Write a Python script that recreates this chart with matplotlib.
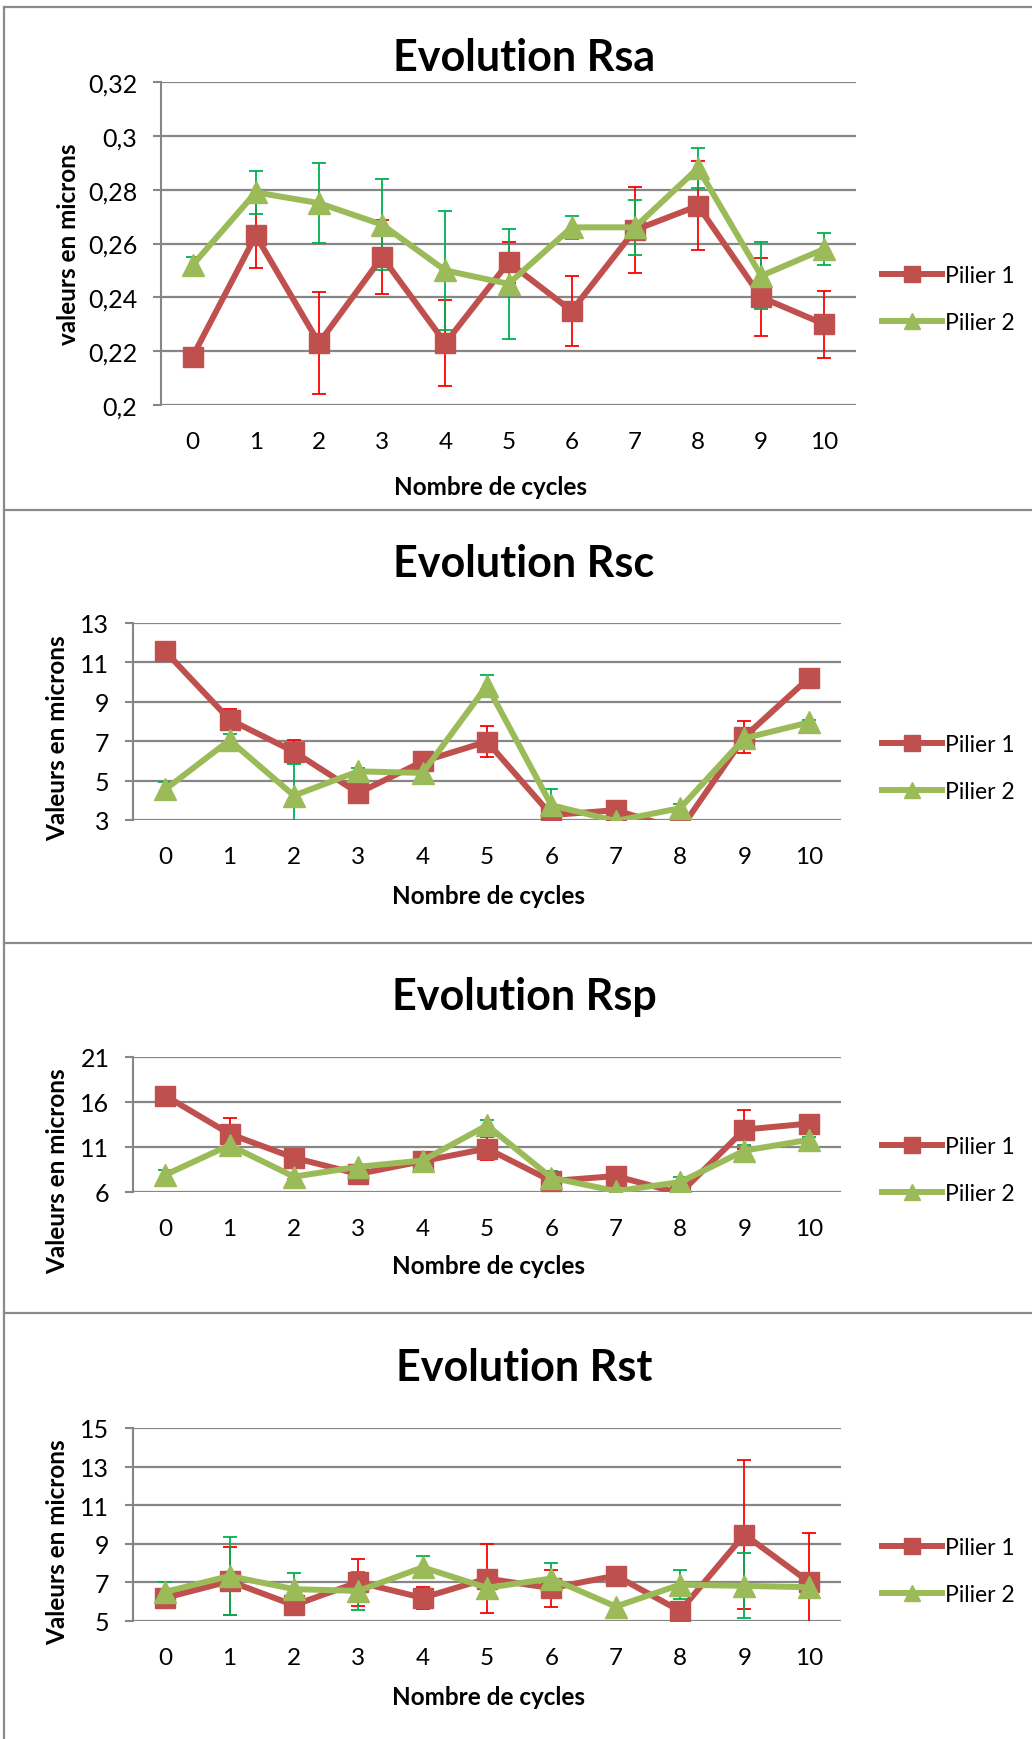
import matplotlib
matplotlib.use("Agg")
import matplotlib.pyplot as plt
from matplotlib.lines import Line2D

plt.rcParams['font.family'] = ['Lato', 'DejaVu Sans']

# ---------------- data ----------------
cycles = [0, 1, 2, 3, 4, 5, 6, 7, 8, 9, 10]
cycle_labels = ["0", "1", "2", "3", "4", "5", "6", "7", "8", "9", "10"]
series_names = ["Pilier 1", "Pilier 2"]

rsa_p1 = [0.218, 0.263, 0.223, 0.255, 0.223, 0.253, 0.235, 0.265, 0.274, 0.240, 0.230]
rsa_p1_err = [0.002, 0.012, 0.019, 0.0137, 0.016, 0.0075, 0.013, 0.016, 0.0166, 0.0145, 0.0125]
rsa_p2 = [0.252, 0.279, 0.275, 0.267, 0.250, 0.245, 0.266, 0.266, 0.288, 0.248, 0.258]
rsa_p2_err = [0.003, 0.008, 0.0148, 0.017, 0.022, 0.0205, 0.0043, 0.0102, 0.0075, 0.0125, 0.006]
rsa_yticks = [0.20, 0.22, 0.24, 0.26, 0.28, 0.30, 0.32]
rsa_ylabels = ["0,2", "0,22", "0,24", "0,26", "0,28", "0,3", "0,32"]

rsc_p1 = [11.56, 8.1, 6.47, 4.37, 5.97, 6.98, 3.25, 3.5, 2.5, 7.22, 10.2]
rsc_p1_err = [0.2, 0.54, 0.6, 0.2, 0.2, 0.77, 0.2, 0.15, 0.2, 0.83, 0.2]
rsc_p2 = [4.55, 7.05, 4.24, 5.47, 5.39, 9.82, 3.75, 2.95, 3.6, 7.15, 7.95]
rsc_p2_err = [0.37, 0.32, 1.6, 0.15, 0.15, 0.53, 0.8, 0.1, 0.2, 0.2, 0.15]
rsc_yticks = [3, 5, 7, 9, 11, 13]
rsc_ylabels = ["3", "5", "7", "9", "11", "13"]

rsp_p1 = [16.7, 12.46, 9.8, 8.0, 9.43, 10.83, 7.22, 7.77, 5.85, 12.94, 13.6]
rsp_p1_err = [0.2, 1.77, 0.2, 0.2, 0.2, 1.3, 0.2, 0.2, 0.2, 2.14, 0.2]
rsp_p2 = [7.9, 11.2, 7.7, 8.8, 9.5, 13.4, 7.59, 6.1, 7.1, 10.6, 11.8]
rsp_p2_err = [0.55, 1.1, 0.2, 0.2, 0.2, 0.6, 0.7, 0.2, 0.55, 0.6, 0.35]
rsp_yticks = [6, 11, 16, 21]
rsp_ylabels = ["6", "11", "16", "21"]

rst_p1 = [6.2, 7.06, 5.82, 7.01, 6.2, 7.2, 6.7, 7.35, 5.52, 9.48, 7.03]
rst_p1_err = [0.48, 1.75, 0.52, 1.22, 0.58, 1.77, 0.96, 0.2, 0.2, 3.86, 2.55]
rst_p2 = [6.51, 7.33, 6.65, 6.56, 7.78, 6.72, 7.2, 5.75, 6.88, 6.82, 6.75]
rst_p2_err = [0.52, 2.02, 0.86, 0.99, 0.57, 0.6, 0.82, 0.2, 0.76, 1.68, 0.58]
rst_yticks = [5, 7, 9, 11, 13, 15]
rst_ylabels = ["5", "7", "9", "11", "13", "15"]

titles = ["Evolution Rsa", "Evolution Rsc", "Evolution Rsp", "Evolution Rst"]
ylabel_texts = ["valeurs en microns", "Valeurs en microns", "Valeurs en microns", "Valeurs en microns"]
xlabel_text = "Nombre de cycles"

# ---------------- style ----------------
W, H = 1032, 1740
C1, C2 = "#C0504D", "#9BBB59"
E1, E2 = "#FF0000", "#00B050"
GRID = "#868686"
FRAME = "#8A8A8A"

fig = plt.figure(figsize=(W / 100, H / 100), dpi=100)


def fx(x):
    return x / W


def fy(y):
    return 1 - y / H


def draw_panel(box, title, title_y, ylabel, ylabel_xy, xlabel_xy, p1, e1, p2, e2,
               yticks, ylabels, legend_y):
    left, top, right, bottom = box
    ax = fig.add_axes([fx(left), fy(bottom), (right - left) / W, (bottom - top) / H])
    ax.errorbar(cycles, p1, yerr=e1, fmt='none', ecolor=E1, elinewidth=1.3,
                capsize=5, capthick=1.3, zorder=2)
    ax.errorbar(cycles, p2, yerr=e2, fmt='none', ecolor=E2, elinewidth=1.3,
                capsize=5, capthick=1.3, zorder=2)
    ax.plot(cycles, p1, color=C1, lw=4.3, marker='s', markersize=14,
            markerfacecolor=C1, markeredgecolor=C1, zorder=3)
    ax.plot(cycles, p2, color=C2, lw=4.3, marker='^', markersize=16,
            markerfacecolor=C2, markeredgecolor=C2, zorder=4)
    ax.set_xlim(-0.5, 10.5)
    ax.set_ylim(yticks[0], yticks[-1])
    ax.set_yticks(yticks)
    ax.set_yticklabels(ylabels)
    ax.set_xticks(cycles)
    ax.set_xticklabels(cycle_labels)
    for s in ['top', 'right', 'bottom']:
        ax.spines[s].set_visible(False)
    ax.spines['left'].set_color(GRID)
    ax.spines['left'].set_linewidth(1.5)
    ax.yaxis.grid(True, color=GRID, lw=1.6)
    ax.set_axisbelow(True)
    ax.tick_params(axis='y', length=6, width=1.5, color=GRID, pad=11, labelsize=18)
    ax.tick_params(axis='x', length=0, pad=19, labelsize=17.5)
    ax.set_facecolor('none')
    fig.text(fx(524), fy(title_y), title,
             ha='center', va='center', fontsize=31, fontweight='bold')
    fig.text(fx(ylabel_xy[0]), fy(ylabel_xy[1]), ylabel, rotation=90,
             ha='center', va='center', fontsize=17.5, fontweight='bold')
    fig.text(fx(xlabel_xy[0]), fy(xlabel_xy[1]), xlabel_text,
             ha='center', va='center', fontsize=17.5, fontweight='bold')
    h1 = Line2D([], [], color=C1, lw=4.3, marker='s', markersize=11)
    h2 = Line2D([], [], color=C2, lw=4.3, marker='^', markersize=12)
    ax.legend([h1, h2], series_names, loc='center left',
              bbox_to_anchor=(fx(882), fy(legend_y)), bbox_transform=fig.transFigure,
              frameon=False, fontsize=16.5, handlelength=2.6, handletextpad=0.15,
              labelspacing=1.15, borderaxespad=0, borderpad=0)
    return ax


draw_panel((161, 83, 856, 406), titles[0], 58, ylabel_texts[0], (69, 244), (490, 488),
           rsa_p1, rsa_p1_err, rsa_p2, rsa_p2_err, rsa_yticks, rsa_ylabels, 300)
draw_panel((133, 624, 841, 821), titles[1], 564, ylabel_texts[1], (58, 738), (488, 897),
           rsc_p1, rsc_p1_err, rsc_p2, rsc_p2_err, rsc_yticks, rsc_ylabels, 769)
draw_panel((133, 1058, 841, 1193), titles[2], 997, ylabel_texts[2], (58, 1171), (488, 1267),
           rsp_p1, rsp_p1_err, rsp_p2, rsp_p2_err, rsp_yticks, rsp_ylabels, 1171)
draw_panel((133, 1429, 841, 1622), titles[3], 1368, ylabel_texts[3], (58, 1542), (488, 1698),
           rst_p1, rst_p1_err, rst_p2, rst_p2_err, rst_yticks, rst_ylabels, 1572)

# outer frame and separators
fig.add_artist(Line2D([fx(4), fx(4)], [fy(8), fy(H)], transform=fig.transFigure,
                      color=FRAME, lw=1.6))
for yy in [8, 511, 944, 1314]:
    fig.add_artist(Line2D([fx(4), fx(W)], [fy(yy), fy(yy)], transform=fig.transFigure,
                          color=FRAME, lw=1.6))

fig.savefig("out.png", dpi=100, facecolor='white')
